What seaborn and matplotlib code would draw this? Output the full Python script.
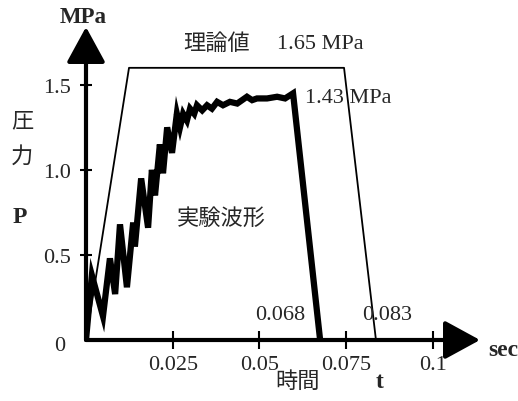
import matplotlib
matplotlib.use("Agg")
import matplotlib.pyplot as plt
import seaborn as sns
import pandas as pd

# ---- data ----
theory_t = [0.0, 0.0124, 0.0744, 0.0836]
theory_p = [0.0, 1.60, 1.60, 0.0]

exp_t = [0.0, 0.0017, 0.0049, 0.0069, 0.0084, 0.0098, 0.0118, 0.0136, 0.0141,
         0.0159, 0.0179, 0.0190, 0.0199, 0.0213, 0.0222, 0.0234, 0.0248, 0.0262,
         0.0271, 0.0280, 0.0291, 0.0300, 0.0312, 0.0320, 0.0335, 0.0349, 0.0363,
         0.0378, 0.0395, 0.0415, 0.0436, 0.0464, 0.0479, 0.0493, 0.0522, 0.0551,
         0.0574, 0.0597, 0.0675]
exp_p = [0.0, 0.38, 0.14, 0.48, 0.27, 0.68, 0.31, 0.69, 0.55,
         0.95, 0.66, 1.00, 0.85, 1.15, 0.98, 1.25, 1.10, 1.33,
         1.25, 1.33, 1.29, 1.36, 1.33, 1.38, 1.35, 1.38, 1.36,
         1.40, 1.38, 1.40, 1.39, 1.43, 1.41, 1.42, 1.42, 1.43,
         1.42, 1.45, 0.0]

x_ticks = [0.025, 0.05, 0.075, 0.1]
x_tick_labels = ["0.025", "0.05", "0.075", "0.1"]
y_ticks = [0.5, 1.0, 1.5]
y_tick_labels = ["0.5", "1.0", "1.5"]

sns.set_theme(style="white")
plt.rcParams["font.family"] = ["Liberation Serif", "Noto Sans CJK JP"]

fig = plt.figure(figsize=(5.18, 4.02), dpi=100)
ax = fig.add_axes([86/518, 61/402, 394/518, 313/402])

df_th = pd.DataFrame({"t": theory_t, "p": theory_p})
df_ex = pd.DataFrame({"t": exp_t, "p": exp_p})
sns.lineplot(data=df_th, x="t", y="p", sort=False, color="black", lw=1.3, ax=ax)
sns.lineplot(data=df_ex, x="t", y="p", sort=False, color="black", lw=4.5, ax=ax,
             solid_joinstyle="miter")

ax.set_xlim(0, 0.1136)
ax.set_ylim(0, 1.84)
for s in ax.spines.values():
    s.set_visible(False)

# axis arrows
arrow = dict(arrowstyle="-|>,head_length=2.2,head_width=1.2", lw=3, color="black",
             mutation_scale=10, shrinkA=0, shrinkB=0)
ax.annotate("", xy=(0, 1), xytext=(0, 0), xycoords="axes fraction",
            textcoords="axes fraction", arrowprops=arrow, annotation_clip=False)
ax.annotate("", xy=(1, 0), xytext=(0, 0), xycoords="axes fraction",
            textcoords="axes fraction", arrowprops=arrow, annotation_clip=False)

ax.set_xticks(x_ticks)
ax.set_xticklabels(x_tick_labels)
ax.set_yticks(y_ticks)
ax.set_yticklabels(y_tick_labels)
ax.tick_params(axis="x", direction="inout", length=13, width=1.5, color="black",
               labelsize=16, pad=4, bottom=True)
ax.tick_params(axis="y", direction="inout", length=9, width=1.5, color="black",
               labelsize=16, pad=6, left=True)
ax.set_xlabel("")
ax.set_ylabel("")

T = ax.transAxes
ax.text(-0.066, -0.019, "0", transform=T, ha="center", va="center", fontsize=16)
ax.text(-0.008, 1.035, "MPa", transform=T, ha="center", va="center", fontsize=16.5, fontweight="bold")
ax.text(1.058, -0.029, "sec", transform=T, ha="center", va="center", fontsize=17, fontweight="bold")
ax.text(0.746, -0.134, "t", transform=T, ha="center", va="center", fontsize=17, fontweight="bold")
ax.text(0.538, -0.134, "時間", transform=T, ha="center", va="center", fontsize=16)
ax.text(-0.162, 0.696, "圧", transform=T, ha="center", va="center", fontsize=16)
ax.text(-0.162, 0.588, "力", transform=T, ha="center", va="center", fontsize=16)
ax.text(-0.168, 0.396, "P", transform=T, ha="center", va="center", fontsize=17, fontweight="bold")
ax.text(0.332, 0.946, "理論値", transform=T, ha="center", va="center", fontsize=16)
ax.text(0.594, 0.946, "1.65 MPa", transform=T, ha="center", va="center", fontsize=16)
ax.text(0.665, 0.776, "1.43 MPa", transform=T, ha="center", va="center", fontsize=16)
ax.text(0.343, 0.387, "実験波形", transform=T, ha="center", va="center", fontsize=16)
ax.text(0.492, 0.083, "0.068", transform=T, ha="center", va="center", fontsize=16)
ax.text(0.764, 0.083, "0.083", transform=T, ha="center", va="center", fontsize=16)

fig.savefig("out.png", dpi=100)
